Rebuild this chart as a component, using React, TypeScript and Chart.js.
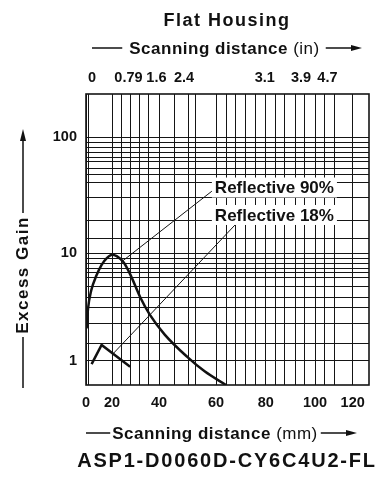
import { useEffect, useRef } from 'react';
import { Chart, registerables, LinearScale } from 'chart.js';

// ---------------- data ----------------
const X_MM_90 = [0.5, 1.5, 4, 8, 12, 16, 20, 22, 25, 28, 32, 36, 42, 50, 56, 64];
const GAIN_90 = [2.0, 3.0, 4.5, 6.2, 7.8, 9.0, 9.7, 9.4, 8.2, 6.2, 3.9, 2.7, 1.75, 1.08, 0.8, 0.6];
const X_MM_18 = [4.3, 12, 27.7];
const GAIN_18 = [0.93, 1.4, 0.88];

const X_TICK_LABELS = [0, 20, 40, 60, 80, 100, 120];
const X_GRID_MM = [0, 2.3, 20, 24.1, 27.9, 31.9, 35.7, 40, 45.3, 50.5, 52.9, 60, 64.3, 68, 71.9, 76, 80, 83.8, 87.8, 91.9, 95.9, 100, 105.3, 110.6, 120];
const TOP_TICK_LABELS = ['0', '0.79', '1.6', '2.4', '3.1', '3.9', '4.7'];
const TOP_TICK_MM = [4.6, 27.0, 38.9, 48.8, 79.6, 94.3, 106.6];
const Y_TICK_LABELS = [1, 10, 100];
const Y_GRID = [1, 1.45, 2.2, 3.1, 3.9, 4.9, 6, 6.6, 7.2, 8, 9, 10, 13.5, 19, 30, 41, 48, 54, 62, 67, 74, 82, 90, 100];

const SERIES_NAMES = ['Reflective 90%', 'Reflective 18%'];
// annotation anchors in data units (mm, gain)
const ANNOTATIONS = [
  { text: SERIES_NAMES[0], labelMm: 59.6, labelGain: 36.9, fromMm: 24.1, fromGain: 8.35, toMm: 58.6, toGain: 34.4 },
  { text: SERIES_NAMES[1], labelMm: 59.6, labelGain: 21.4, fromMm: 20.6, fromGain: 1.17, toMm: 67.6, toGain: 17.5 },
];

const TITLE = 'Flat Housing';
const MODEL = 'ASP1-D0060D-CY6C4U2-FL';
const Y_TITLE = 'Excess Gain';

// ---------------- scale configuration ----------------
type Knots = { log: boolean; vals: number[]; fracs: number[] };
const AXIS_KNOTS: Record<string, Knots> = {
  x: { log: false, vals: [0, 20, 40, 60, 80, 100, 120, 128.6], fracs: [0, 0.0919, 0.258, 0.4594, 0.635, 0.8092, 0.9424, 1] },
  y: { log: true, vals: [0.6, 1, 10, 100, 236], fracs: [0, 0.0835, 0.4526, 0.8512, 1] },
};

class PiecewiseScale extends LinearScale {
  static id = 'piecewise';
  static defaults = {};
  knots(): Knots {
    const id = (this as any).id as string;
    return AXIS_KNOTS[id.startsWith('y') ? 'y' : 'x'];
  }
  getPixelForValue(value: number) {
    const k = this.knots();
    const tr = (v: number) => (k.log ? Math.log10(v) : v);
    const t = tr(value);
    const tv = k.vals.map(tr);
    let i = 0;
    while (i < tv.length - 2 && t > tv[i + 1]) i++;
    const f = k.fracs[i] + ((t - tv[i]) / (tv[i + 1] - tv[i])) * (k.fracs[i + 1] - k.fracs[i]);
    return this.getPixelForDecimal(f);
  }
  getValueForPixel(pixel: number) {
    const k = this.knots();
    const d = this.getDecimalForPixel(pixel);
    const tv = k.vals.map((v) => (k.log ? Math.log10(v) : v));
    let i = 0;
    while (i < k.fracs.length - 2 && d > k.fracs[i + 1]) i++;
    const t = tv[i] + ((d - k.fracs[i]) / (k.fracs[i + 1] - k.fracs[i])) * (tv[i + 1] - tv[i]);
    return k.log ? Math.pow(10, t) : t;
  }
}

Chart.register(...registerables, PiecewiseScale);

const FONT = "'Liberation Sans', Arial, Helvetica, sans-serif";
const INK = '#111';
const LINE = '#151515';

function arrowH(ctx: CanvasRenderingContext2D, x1: number, x2: number, y: number, head: boolean) {
  ctx.beginPath();
  ctx.moveTo(x1, y);
  ctx.lineTo(head ? x2 - 8 : x2, y);
  ctx.stroke();
  if (head) {
    ctx.beginPath();
    ctx.moveTo(x2, y);
    ctx.lineTo(x2 - 11, y - 3);
    ctx.lineTo(x2 - 11, y + 3);
    ctx.closePath();
    ctx.fill();
  }
}

function axisTitleRow(ctx: CanvasRenderingContext2D, cx: number, base: number, bold: string, normal: string, lx: number, rx: number, gapL: number, gapR: number) {
  (ctx as any).letterSpacing = '0.5px';
  ctx.font = `bold 17px ${FONT}`;
  const w1 = ctx.measureText(bold).width;
  const wsp = ctx.measureText(' ').width;
  ctx.font = `17px ${FONT}`;
  const w2 = ctx.measureText(normal).width;
  const total = w1 + wsp + w2;
  const x0 = cx - total / 2;
  ctx.textAlign = 'left';
  ctx.textBaseline = 'alphabetic';
  ctx.font = `bold 17px ${FONT}`;
  ctx.fillText(bold, x0, base);
  ctx.font = `17px ${FONT}`;
  ctx.fillText(normal, x0 + w1 + wsp, base);
  (ctx as any).letterSpacing = '0px';
  ctx.lineWidth = 1.5;
  arrowH(ctx, lx, x0 - gapL, base - 6, false);
  arrowH(ctx, x0 + total + gapR, rx, base - 6, true);
}

const decorPlugin = {
  id: 'decor',
  beforeDatasetsDraw(chart: any) {
    const { ctx, chartArea: a } = chart;
    ctx.save();
    ctx.strokeStyle = LINE;
    ctx.lineWidth = 1.6;
    ctx.strokeRect(a.left, a.top, a.right - a.left, a.bottom - a.top);
    ctx.restore();
  },
  afterDatasetsDraw(chart: any) {
    const { ctx } = chart;
    const xs = chart.scales.x;
    const ys = chart.scales.y;
    ctx.save();
    ctx.font = `bold 17px ${FONT}`;
    for (const an of ANNOTATIONS) {
      ctx.strokeStyle = LINE;
      ctx.lineWidth = 1;
      ctx.beginPath();
      ctx.moveTo(xs.getPixelForValue(an.fromMm), ys.getPixelForValue(an.fromGain));
      ctx.lineTo(xs.getPixelForValue(an.toMm), ys.getPixelForValue(an.toGain));
      ctx.stroke();
      const lx = xs.getPixelForValue(an.labelMm);
      const ly = ys.getPixelForValue(an.labelGain);
      const w = ctx.measureText(an.text).width;
      ctx.fillStyle = '#fff';
      ctx.fillRect(lx - 3, ly - 10, w + 6, 20);
      ctx.fillStyle = INK;
      ctx.textAlign = 'left';
      ctx.textBaseline = 'middle';
      ctx.fillText(an.text, lx, ly + 1);
    }
    ctx.restore();
  },
  afterDraw(chart: any) {
    const { ctx } = chart;
    ctx.save();
    ctx.fillStyle = INK;
    ctx.strokeStyle = INK;
    // title
    ctx.font = `bold 18px ${FONT}`;
    (ctx as any).letterSpacing = '1.5px';
    ctx.textAlign = 'center';
    ctx.textBaseline = 'alphabetic';
    ctx.fillText(TITLE, 227, 26);
    (ctx as any).letterSpacing = '0px';
    // top axis title
    axisTitleRow(ctx, 224.5, 54, 'Scanning distance', '(in)', 92, 362, 7, 6);
    // bottom axis title
    axisTitleRow(ctx, 215, 439, 'Scanning distance', '(mm)', 86, 357, 2, 3);
    // model name
    ctx.font = `bold 20px ${FONT}`;
    (ctx as any).letterSpacing = '1.8px';
    ctx.textAlign = 'center';
    ctx.fillText(MODEL, 227, 467);
    (ctx as any).letterSpacing = '0px';
    // y title
    ctx.save();
    ctx.translate(23, 275);
    ctx.rotate(-Math.PI / 2);
    ctx.font = `bold 17px ${FONT}`;
    (ctx as any).letterSpacing = '1.5px';
    ctx.textAlign = 'center';
    ctx.textBaseline = 'middle';
    ctx.fillText(Y_TITLE, 0, 0);
    (ctx as any).letterSpacing = '0px';
    ctx.restore();
    ctx.lineWidth = 1.5;
    ctx.beginPath();
    ctx.moveTo(23, 388);
    ctx.lineTo(23, 337);
    ctx.moveTo(23, 213);
    ctx.lineTo(23, 138);
    ctx.stroke();
    ctx.beginPath();
    ctx.moveTo(23, 129);
    ctx.lineTo(20, 141);
    ctx.lineTo(26, 141);
    ctx.closePath();
    ctx.fill();
    ctx.restore();
  },
};

const tickFont = { family: FONT, size: 14.5, weight: 'bold' as const };

export default function App() {
  const ref = useRef<HTMLCanvasElement | null>(null);
  useEffect(() => {
    if (!ref.current) return;
    const chart = new Chart(ref.current, {
      type: 'line',
      data: {
        datasets: [
          {
            label: SERIES_NAMES[0],
            data: X_MM_90.map((x, i) => ({ x, y: GAIN_90[i] })),
            borderColor: '#111',
            borderWidth: 2.5,
            pointRadius: 0,
            cubicInterpolationMode: 'monotone',
            fill: false,
          },
          {
            label: SERIES_NAMES[1],
            data: X_MM_18.map((x, i) => ({ x, y: GAIN_18[i] })),
            borderColor: '#111',
            borderWidth: 2.5,
            pointRadius: 0,
            tension: 0,
            fill: false,
          },
        ],
      },
      options: {
        animation: false,
        responsive: false,
        events: [],
        layout: { padding: { left: 0, top: 0, right: 12, bottom: 0 } },
        plugins: { legend: { display: false }, tooltip: { enabled: false }, title: { display: false } },
        scales: {
          x: {
            type: 'piecewise' as any,
            position: 'bottom',
            min: 0,
            max: 128.6,
            bounds: 'data',
            afterBuildTicks: (s: any) => {
              s.ticks = X_GRID_MM.map((v) => ({ value: v }));
            },
            afterFit: (s: any) => {
              s.height = 100;
            },
            grid: { color: LINE, lineWidth: 1, drawTicks: false },
            border: { display: false },
            ticks: {
              autoSkip: false,
              maxRotation: 0,
              minRotation: 0,
              padding: 9.3,
              color: INK,
              font: tickFont,
              callback: (v: any) => (X_TICK_LABELS.includes(v) ? String(v) : ''),
            },
          },
          xTop: {
            type: 'piecewise' as any,
            position: 'top',
            min: 0,
            max: 128.6,
            bounds: 'data',
            afterBuildTicks: (s: any) => {
              s.ticks = TOP_TICK_MM.map((v) => ({ value: v }));
            },
            afterFit: (s: any) => {
              s.height = 94;
            },
            grid: { display: false, drawTicks: false },
            border: { display: false },
            ticks: {
              autoSkip: false,
              maxRotation: 0,
              minRotation: 0,
              padding: 7,
              color: INK,
              font: tickFont,
              callback: (_v: any, i: number) => TOP_TICK_LABELS[i],
            },
          },
          y: {
            type: 'piecewise' as any,
            position: 'left',
            min: 0.6,
            max: 236,
            bounds: 'data',
            afterBuildTicks: (s: any) => {
              s.ticks = Y_GRID.map((v) => ({ value: v }));
            },
            afterFit: (s: any) => {
              s.width = 86;
            },
            grid: { color: LINE, lineWidth: 1, drawTicks: false },
            border: { display: false },
            ticks: {
              autoSkip: false,
              padding: 9,
              color: INK,
              font: tickFont,
              callback: (v: any) => (Y_TICK_LABELS.includes(v) ? String(v) : ''),
            },
          },
        } as any,
      },
      plugins: [decorPlugin],
    });
    return () => chart.destroy();
  }, []);
  return (
    <div style={{ position: 'absolute', left: 0, top: 0, width: 381, height: 485, background: '#fff' }}>
      <canvas ref={ref} width={381} height={485} style={{ display: 'block' }} />
    </div>
  );
}
